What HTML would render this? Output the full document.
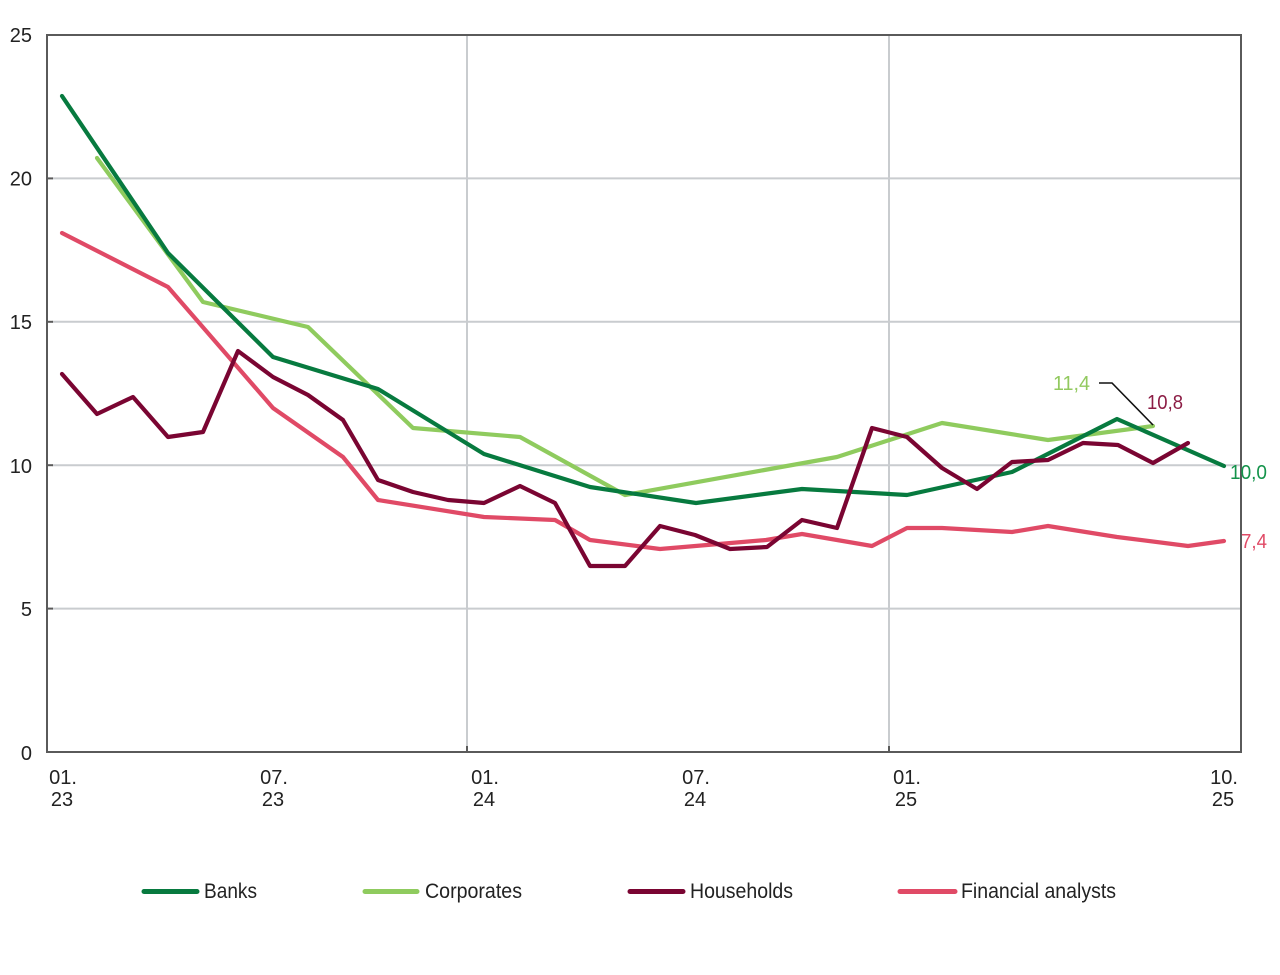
<!DOCTYPE html>
<html>
<head>
<meta charset="utf-8">
<style>
  html,body{margin:0;padding:0;background:#ffffff;}
  body{width:1280px;height:975px;overflow:hidden;}
  svg{display:block;}
  text{font-family:"Liberation Sans", Arial, sans-serif;}
</style>
</head>
<body>
<svg width="1280" height="975" viewBox="0 0 1280 975" xmlns="http://www.w3.org/2000/svg">
  <rect x="0" y="0" width="1280" height="975" fill="#ffffff"/>

  <!-- horizontal gridlines -->
  <g stroke="#c9cccf" stroke-width="2">
    <line x1="52" y1="178.4" x2="1241" y2="178.4"/>
    <line x1="52" y1="321.8" x2="1241" y2="321.8"/>
    <line x1="52" y1="465.2" x2="1241" y2="465.2"/>
    <line x1="52" y1="608.6" x2="1241" y2="608.6"/>
    <!-- vertical gridlines -->
    <line x1="467" y1="35" x2="467" y2="752"/>
    <line x1="889" y1="35" x2="889" y2="752"/>
  </g>

  <!-- frame -->
  <rect x="47" y="35" width="1194" height="717" fill="none" stroke="#5a5a5a" stroke-width="2"/>
  <!-- y ticks -->
  <g stroke="#5a5a5a" stroke-width="2">
    <line x1="47" y1="178.4" x2="53" y2="178.4"/>
    <line x1="47" y1="321.8" x2="53" y2="321.8"/>
    <line x1="47" y1="465.2" x2="53" y2="465.2"/>
    <line x1="47" y1="608.6" x2="53" y2="608.6"/>
    <line x1="467" y1="746" x2="467" y2="752"/>
    <line x1="889" y1="746" x2="889" y2="752"/>
  </g>

  <!-- y labels -->
  <g font-size="20" fill="#222" text-anchor="end">
    <text x="32" y="42">25</text>
    <text x="32" y="185.5">20</text>
    <text x="32" y="329">15</text>
    <text x="32" y="473">10</text>
    <text x="32" y="616">5</text>
    <text x="32" y="760">0</text>
  </g>

  <!-- x labels -->
  <g font-size="20" fill="#222" text-anchor="middle">
    <text x="63" y="784">01.</text><text x="62" y="806">23</text>
    <text x="274" y="784">07.</text><text x="273" y="806">23</text>
    <text x="485" y="784">01.</text><text x="484" y="806">24</text>
    <text x="696" y="784">07.</text><text x="695" y="806">24</text>
    <text x="907" y="784">01.</text><text x="906" y="806">25</text>
    <text x="1224" y="784">10.</text><text x="1223" y="806">25</text>
  </g>

  <!-- series -->
  <g fill="none" stroke-width="4.2" stroke-linejoin="round" stroke-linecap="round">
    <!-- Financial analysts -->
    <polyline stroke="#e04a66" points="62,233 168,287 273,408 343,457 378,500 484,517 555,520 590,540 660,549 766,540 802,534 872,546 907,528 942,528 1012,532 1048,526 1117,537 1188,546 1224,541"/>
    <!-- Corporates -->
    <polyline stroke="#8fcb5e" points="97,158 203,302 308,327 413,428 520,437 625,495 837,457 942,423 1048,440 1153,426"/>
    <!-- Banks -->
    <polyline stroke="#077a3f" points="62,96 168,253 273,357 378,389 484,454 590,487 696,503 802,489 907,495 1012,472 1117,419 1224,466"/>
    <!-- Households -->
    <polyline stroke="#7a0532" points="62,374 97,414 133,397 168,437 203,432 238,351 273,377 308,395 343,420 378,480 413,492 448,500 484,503 520,486 555,503 590,566 625,566 660,526 695,535 730,549 767,547 802,520 837,528 872,428 907,437 942,468 977,489 1012,462 1048,460 1083,443 1118,445 1153,463 1188,443"/>
  </g>

  <!-- annotation leader -->
  <polyline points="1099,383 1112,383 1153,425" fill="none" stroke="#111" stroke-width="1.6"/>

  <!-- value labels -->
  <g font-size="20">
    <text x="1053" y="390" fill="#92c95f" textLength="37" lengthAdjust="spacingAndGlyphs">11,4</text>
    <text x="1147" y="409" fill="#8c1d45" textLength="36" lengthAdjust="spacingAndGlyphs">10,8</text>
    <text x="1230" y="479" fill="#14934b" textLength="37" lengthAdjust="spacingAndGlyphs">10,0</text>
    <text x="1241" y="548" fill="#e04a66" textLength="26" lengthAdjust="spacingAndGlyphs">7,4</text>
  </g>

  <!-- legend -->
  <g stroke-width="5" stroke-linecap="round">
    <line x1="144" y1="891.5" x2="197" y2="891.5" stroke="#077a3f"/>
    <line x1="365" y1="891.5" x2="417" y2="891.5" stroke="#8fcb5e"/>
    <line x1="630" y1="891.5" x2="683" y2="891.5" stroke="#7a0532"/>
    <line x1="900" y1="891.5" x2="955" y2="891.5" stroke="#e04a66"/>
  </g>
  <g font-size="21" fill="#222">
    <text x="204" y="898" textLength="53" lengthAdjust="spacingAndGlyphs">Banks</text>
    <text x="425" y="898" textLength="97" lengthAdjust="spacingAndGlyphs">Corporates</text>
    <text x="690" y="898" textLength="103" lengthAdjust="spacingAndGlyphs">Households</text>
    <text x="961" y="898" textLength="155" lengthAdjust="spacingAndGlyphs">Financial analysts</text>
  </g>
</svg>
</body>
</html>
